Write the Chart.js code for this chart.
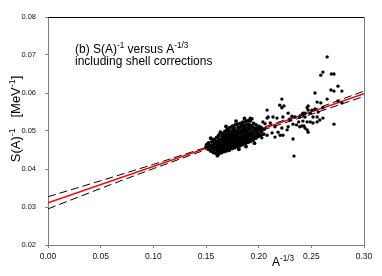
<!DOCTYPE html>
<html><head><meta charset="utf-8">
<script src="https://cdn.jsdelivr.net/npm/chart.js@4.4.1/dist/chart.umd.min.js"></script>
<style>html,body{margin:0;padding:0;background:#fff;}#wrap{width:382px;height:276px;}</style>
</head><body><div id="wrap"><canvas id="c" width="382" height="276"></canvas></div>
<script>
const xTicks = [0.00, 0.05, 0.10, 0.15, 0.20, 0.25, 0.30];
const yTicks = [0.02, 0.03, 0.04, 0.05, 0.06, 0.07, 0.08];
const fitX = [0.00, 0.30];
const fitY = [0.0311, 0.0598];
const bandX = [0.00, 0.05, 0.10, 0.15, 0.20, 0.25, 0.30];
const bandUpper = [0.0327, 0.0369, 0.0412, 0.0457, 0.0505, 0.0554, 0.0605];
const bandLower = [0.0295, 0.0349, 0.0401, 0.0451, 0.0499, 0.0544, 0.0591];
const clusterPoints = [
[0.1500,0.0458],[0.1505,0.0464],
[0.1522,0.0452],[0.1528,0.0461],[0.1524,0.0469],
[0.1548,0.0447],[0.1553,0.0455],[0.1550,0.0463],[0.1556,0.0472],
[0.1572,0.0443],[0.1578,0.0451],[0.1574,0.0459],[0.1579,0.0467],[0.1576,0.0478],
[0.1598,0.0441],[0.1603,0.0449],[0.1600,0.0457],[0.1604,0.0465],[0.1599,0.0473],[0.1602,0.0483],
[0.1622,0.0440],[0.1627,0.0448],[0.1624,0.0456],[0.1628,0.0463],[0.1623,0.0471],[0.1626,0.0479],[0.1621,0.0489],
[0.1647,0.0443],[0.1652,0.0450],[0.1649,0.0457],[0.1653,0.0464],[0.1648,0.0471],[0.1651,0.0478],[0.1654,0.0486],[0.1650,0.0494],
[0.1673,0.0446],[0.1678,0.0453],[0.1674,0.0460],[0.1679,0.0468],[0.1672,0.0475],[0.1677,0.0483],[0.1675,0.0491],[0.1679,0.0499],
[0.1697,0.0448],[0.1702,0.0455],[0.1699,0.0462],[0.1704,0.0469],[0.1698,0.0476],[0.1703,0.0483],[0.1700,0.0490],[0.1705,0.0497],[0.1701,0.0504],
[0.1722,0.0450],[0.1728,0.0457],[0.1724,0.0464],[0.1729,0.0471],[0.1723,0.0478],[0.1727,0.0485],[0.1725,0.0492],[0.1721,0.0500],[0.1726,0.0509],
[0.1748,0.0454],[0.1753,0.0461],[0.1749,0.0468],[0.1754,0.0475],[0.1747,0.0482],[0.1752,0.0489],[0.1750,0.0496],[0.1755,0.0504],[0.1751,0.0513],
[0.1772,0.0456],[0.1777,0.0463],[0.1774,0.0470],[0.1779,0.0477],[0.1773,0.0484],[0.1778,0.0491],[0.1775,0.0498],[0.1771,0.0506],[0.1776,0.0516],
[0.1798,0.0459],[0.1803,0.0466],[0.1799,0.0473],[0.1804,0.0480],[0.1797,0.0487],[0.1802,0.0494],[0.1800,0.0501],[0.1805,0.0509],[0.1801,0.0518],
[0.1822,0.0461],[0.1827,0.0469],[0.1824,0.0477],[0.1829,0.0485],[0.1823,0.0493],[0.1828,0.0501],[0.1825,0.0510],[0.1826,0.0520],
[0.1847,0.0464],[0.1852,0.0472],[0.1849,0.0480],[0.1853,0.0488],[0.1848,0.0496],[0.1851,0.0504],[0.1854,0.0513],[0.1850,0.0523],
[0.1873,0.0467],[0.1878,0.0475],[0.1874,0.0483],[0.1879,0.0491],[0.1872,0.0499],[0.1877,0.0507],[0.1875,0.0516],[0.1879,0.0526],
[0.1898,0.0470],[0.1903,0.0478],[0.1899,0.0486],[0.1904,0.0494],[0.1897,0.0502],[0.1902,0.0510],[0.1900,0.0519],[0.1905,0.0528],
[0.1922,0.0473],[0.1927,0.0481],[0.1924,0.0489],[0.1928,0.0497],[0.1923,0.0505],[0.1926,0.0514],[0.1921,0.0527],
[0.1948,0.0476],[0.1953,0.0484],[0.1949,0.0492],[0.1954,0.0501],[0.1947,0.0510],[0.1952,0.0520],
[0.1973,0.0481],[0.1978,0.0489],[0.1974,0.0498],[0.1979,0.0507],[0.1976,0.0516],
[0.1998,0.0486],[0.2003,0.0494],[0.1999,0.0503],[0.2004,0.0512],
[0.2022,0.0489],[0.2027,0.0499],[0.2024,0.0509],
[0.2048,0.0492],[0.2053,0.0505],
[0.1612,0.0452],[0.1638,0.0468],[0.1662,0.0480],[0.1688,0.0458],[0.1712,0.0494],[0.1738,0.0472],[0.1762,0.0502],
[0.1788,0.0469],[0.1812,0.0497],[0.1838,0.0474],[0.1862,0.0508],[0.1888,0.0480],[0.1912,0.0516],[0.1938,0.0486],
[0.1962,0.0504],[0.1988,0.0492],[0.2012,0.0507],[0.1565,0.0456],[0.1590,0.0470],[0.1715,0.0466],[0.1840,0.0516],
[0.1690,0.0512],[0.1785,0.0526],[0.1865,0.0533],[0.1935,0.0532],[0.1812,0.0452],[0.1880,0.0459],[0.1960,0.0468],
[0.1637,0.0497],[0.1545,0.0481],[0.1608,0.0435]
];
const outerPoints = [
[0.2080,0.0534],[0.2040,0.0524],[0.2110,0.0521],[0.2155,0.0511],[0.2127,0.0495],[0.2080,0.0489],[0.2030,0.0482],
[0.2155,0.0484],[0.2184,0.0497],[0.2230,0.0489],[0.2220,0.0508],[0.2270,0.0503],[0.2298,0.0529],[0.2326,0.0518],
[0.2360,0.0516],[0.2410,0.0513],[0.2380,0.0524],[0.2390,0.0537],[0.2420,0.0542],[0.2326,0.0479],[0.2335,0.0434],
[0.2090,0.0537],[0.2136,0.0537],[0.2174,0.0534],[0.2230,0.0537],[0.2280,0.0547],[0.2317,0.0539],[0.2345,0.0537],
[0.2440,0.0547],[0.2470,0.0555],[0.2080,0.0555],[0.1920,0.0534],[0.2060,0.0519],
[0.2220,0.0584],[0.2200,0.0568],[0.2240,0.0566],[0.2220,0.0561],
[0.2470,0.0497],[0.2280,0.0511],[0.2390,0.0511],[0.2203,0.0489],
[0.2650,0.0695],[0.2610,0.0655],[0.2590,0.0647],[0.2690,0.0650],[0.2715,0.0650],[0.2753,0.0618],[0.2687,0.0608],
[0.2715,0.0605],[0.2790,0.0605],[0.2535,0.0600],[0.2650,0.0584],[0.2555,0.0576],[0.2590,0.0574],[0.2753,0.0579],
[0.2790,0.0574],[0.2470,0.0566],[0.2460,0.0561],[0.2506,0.0555],[0.2535,0.0558],[0.2420,0.0547],[0.2490,0.0547],
[0.2565,0.0550],[0.2610,0.0561],[0.2440,0.0537],[0.2516,0.0537],[0.2555,0.0537],[0.2610,0.0534],[0.2420,0.0526],
[0.2460,0.0524],[0.2490,0.0524],[0.2516,0.0521],[0.2555,0.0524],[0.2430,0.0513],[0.2440,0.0508],[0.2460,0.0503],
[0.2715,0.0518],[0.2580,0.0529]
];

const FONT = '"Liberation Sans", Arial, Helvetica, sans-serif';
const toXY = (xs, ys) => xs.map((x, i) => ({x: x, y: ys[i]}));

function richWidth(ctx, parts, size) {
  let w = 0;
  for (const p of parts) {
    const s = p.sup ? size * 0.68 : size;
    ctx.font = s + 'px ' + FONT;
    w += ctx.measureText(p.t).width;
  }
  return w;
}
function drawRich(ctx, parts, size, x, y) {
  let cx = x;
  for (const p of parts) {
    const s = p.sup ? size * 0.68 : size;
    ctx.font = s + 'px ' + FONT;
    ctx.fillText(p.t, cx, p.sup ? y - size * 0.42 : y);
    cx += ctx.measureText(p.t).width;
  }
}

const textPlugin = {
  id: 'texts',
  afterDraw(chart) {
    const ctx = chart.ctx;
    const a = chart.chartArea;
    ctx.save();
    ctx.lineWidth = 1;
    ctx.strokeStyle = '#000';
    ctx.beginPath(); ctx.moveTo(a.left, a.top + 0.5); ctx.lineTo(a.right, a.top + 0.5); ctx.stroke();
    ctx.strokeStyle = '#808080';
    ctx.beginPath(); ctx.moveTo(a.right + 0.5, a.top); ctx.lineTo(a.right + 0.5, a.bottom); ctx.stroke();

    ctx.fillStyle = '#000';
    ctx.textBaseline = 'alphabetic';
    ctx.textAlign = 'left';
    drawRich(ctx, [{t:'(b) S(A)'},{t:'-1',sup:true},{t:' versus A'},{t:'-1/3',sup:true}], 12, 75, 53);
    drawRich(ctx, [{t:'including shell corrections'}], 12, 75, 65);
    drawRich(ctx, [{t:'A'},{t:'-1/3',sup:true}], 12, 272, 266);
    const yParts = [{t:'S(A)'},{t:'-1',sup:true},{t:'   [MeV'},{t:'-1',sup:true},{t:']'}];
    const w = richWidth(ctx, yParts, 13);
    ctx.translate(20, 119);
    ctx.rotate(-Math.PI / 2);
    drawRich(ctx, yParts, 13, -w / 2, 0);
    ctx.restore();
  }
};

new Chart(document.getElementById('c'), {
  type: 'scatter',
  data: {
    datasets: [
      {
        label: 'cluster',
        data: clusterPoints.map(p => ({x: p[0], y: p[1]})),
        pointRadius: 1.9,
        pointBackgroundColor: '#000',
        pointBorderWidth: 0,
        showLine: false
      },
      {
        label: 'outer',
        data: outerPoints.map(p => ({x: p[0], y: p[1]})),
        pointRadius: 1.7,
        pointBackgroundColor: '#000',
        pointBorderWidth: 0,
        showLine: false
      },
      {
        label: 'fit',
        data: toXY(fitX, fitY),
        showLine: true,
        borderColor: '#ff0000',
        borderWidth: 1.6,
        pointRadius: 0,
        fill: false
      },
      {
        label: 'upper',
        data: toXY(bandX, bandUpper),
        showLine: true,
        borderColor: '#000',
        borderWidth: 1,
        borderDash: [8, 4],
        pointRadius: 0,
        fill: false
      },
      {
        label: 'lower',
        data: toXY(bandX, bandLower),
        showLine: true,
        borderColor: '#000',
        borderWidth: 1,
        borderDash: [8, 4],
        pointRadius: 0,
        fill: false
      }
    ]
  },
  options: {
    responsive: false,
    animation: false,
    devicePixelRatio: 1,
    layout: {padding: {top: 17, right: 18, left: 0, bottom: 0}},
    plugins: {legend: {display: false}, tooltip: {enabled: false}},
    scales: {
      x: {
        type: 'linear', min: 0, max: 0.30,
        afterBuildTicks: s => { s.ticks = xTicks.map(v => ({value: v})); },
        afterFit: s => { s.height = 31; },
        ticks: {
          callback: v => v.toFixed(2),
          font: {size: 8.5, family: FONT},
          color: '#111',
          padding: 4,
          maxRotation: 0,
          autoSkip: false
        },
        grid: {drawOnChartArea: false, drawTicks: true, tickLength: 3, color: '#808080'},
        border: {display: true, color: '#808080'}
      },
      y: {
        type: 'linear', min: 0.02, max: 0.08,
        afterBuildTicks: s => { s.ticks = yTicks.map(v => ({value: v})); },
        afterFit: s => { s.width = 48; },
        ticks: {
          callback: v => v.toFixed(2),
          font: {size: 7.5, family: FONT},
          color: '#111',
          padding: 9,
          autoSkip: false
        },
        grid: {drawOnChartArea: false, drawTicks: true, tickLength: 3, color: '#808080'},
        border: {display: true, color: '#808080'}
      }
    }
  },
  plugins: [textPlugin]
});
</script>
</body></html>
